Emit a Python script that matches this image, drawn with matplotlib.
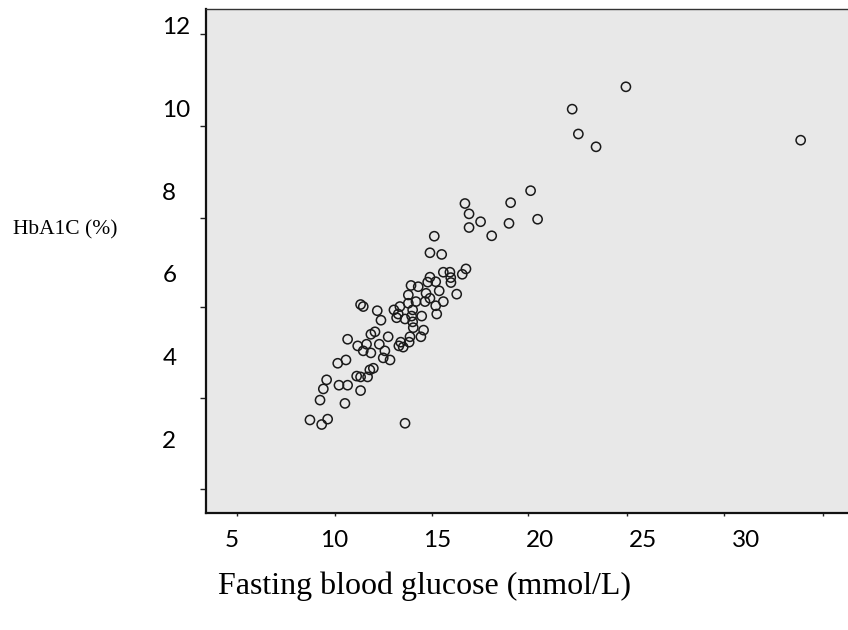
import matplotlib
matplotlib.use("Agg")
import matplotlib.pyplot as plt
import numpy as np

# Fasting blood glucose (mmol/L)
fbg = [14.65, 15.22, 16.40, 16.22, 15.30, 15.62, 15.66, 15.67, 14.65, 14.93,
       14.54, 13.73, 14.08, 15.10, 14.46, 15.95, 13.60, 14.65, 15.30, 14.41,
       13.97, 14.93, 13.60, 13.19, 11.28, 11.41, 12.09, 12.90, 13.11, 14.98,
       13.81, 13.76, 13.03, 13.44, 14.25, 12.27, 13.81, 13.84, 14.34, 14.21,
       13.68, 12.62, 11.98, 11.78, 12.19, 11.57, 11.14, 10.65, 13.23, 13.14,
       13.35, 13.64, 12.46, 11.78, 11.41, 12.38, 12.71, 10.57, 10.17, 11.90,
       11.73, 11.62, 11.09, 11.28, 9.63, 9.47, 10.23, 10.65, 11.28, 9.31,
       10.52, 8.82, 9.39, 9.68, 13.44, 14.86, 16.35, 16.55, 17.11, 16.55,
       17.65, 18.57, 18.49, 19.54, 19.88, 24.17, 21.56, 21.86, 22.72, 32.66]
# HbA1C (%)
hba1c = [6.51, 6.47, 6.12, 5.99, 6.04, 6.04, 5.91, 5.79, 5.92, 5.81,
         5.80, 5.72, 5.69, 5.59, 5.53, 5.51, 5.49, 5.41, 5.33, 5.33,
         5.33, 5.23, 5.29, 5.21, 5.26, 5.21, 5.11, 5.13, 5.03, 5.03,
         5.13, 4.98, 4.94, 4.91, 4.98, 4.88, 4.84, 4.70, 4.64, 4.48,
         4.48, 4.48, 4.60, 4.54, 4.30, 4.30, 4.26, 4.42, 4.35, 4.26,
         4.23, 4.35, 4.14, 4.09, 4.14, 3.97, 3.92, 3.92, 3.84, 3.72,
         3.68, 3.51, 3.53, 3.51, 3.44, 3.22, 3.31, 3.31, 3.18, 2.95,
         2.87, 2.47, 2.36, 2.49, 2.39, 6.91, 7.70, 7.45, 7.26, 7.12,
         6.92, 7.72, 7.22, 8.01, 7.32, 10.52, 9.98, 9.38, 9.07, 9.23]

x_ticks = [5, 10, 15, 20, 25, 30]
x_ticklabels = ["5", "10", "15", "20", "25", "30"]
y_ticks = [2, 4, 6, 8, 10, 12]
y_ticklabels = ["2", "4", "6", "8", "10", "12"]

# positions of the (offset) tick marks as they appear in the scanned figure
x_marks = [5.27, 10.03, 14.75, 19.41, 24.22, 28.93, 33.74]
y_marks = [0.80, 3.00, 5.20, 7.35, 9.57, 11.79]

fig = plt.figure(figsize=(8.48, 6.30), dpi=100)
fig.patch.set_facecolor("white")
ax = fig.add_axes([206/848, 117/630, 1 - 206/848, (513 - 9)/630])
ax.set_facecolor("#e8e8e8")

ax.scatter(fbg, hba1c, s=44, facecolors="none", edgecolors="#1a1a1a",
           linewidths=1.1, zorder=3)

ax.set_xlim(3.77, 34.96)
ax.set_ylim(0.222, 12.40)

ax.set_xticks(x_ticks)
ax.set_xticklabels(x_ticklabels, fontfamily="Lato", fontsize=17.5, color="black")
ax.set_yticks(y_ticks)
ax.set_yticklabels(y_ticklabels, fontfamily="Lato", fontsize=17.5, color="black")
ax.tick_params(axis="both", which="major", length=0)
ax.tick_params(axis="x", which="major", pad=12)
ax.tick_params(axis="y", which="major", pad=31.5)
for lab in ax.get_yticklabels():
    lab.set_horizontalalignment("left")

ax.set_xticks(x_marks, minor=True)
ax.set_yticks(y_marks, minor=True)
ax.tick_params(axis="both", which="minor", length=4, width=1.0,
               color="#222222", direction="out")
ax.tick_params(axis="x", which="minor", length=2)

for side in ["left", "bottom"]:
    ax.spines[side].set_linewidth(1.6)
    ax.spines[side].set_color("#111111")
ax.spines["top"].set_linewidth(1.0)
ax.spines["top"].set_color("#333333")
ax.spines["right"].set_visible(False)

ax.set_ylabel("HbA1C (%)", fontfamily="Liberation Serif", fontsize=15.5,
              rotation=0, ha="center", va="center")
ax.yaxis.set_label_coords(-0.2196, 0.5615)
ax.set_xlabel("Fasting blood glucose (mmol/L)", fontfamily="Liberation Serif",
              fontsize=23, ha="center", va="center")
ax.xaxis.set_label_coords(0.3396, -0.1448)

fig.savefig("out.png", dpi=100)
